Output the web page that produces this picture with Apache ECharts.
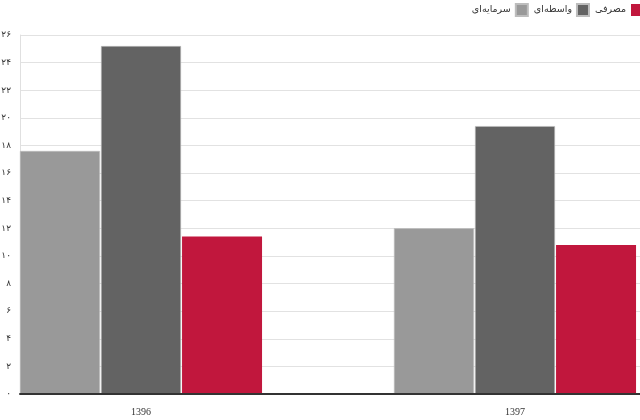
<!DOCTYPE html>
<html><head><meta charset="utf-8">
<script src="https://cdn.jsdelivr.net/npm/echarts@6/dist/echarts.min.js"></script>
<style>html,body{margin:0;padding:0;background:#fff}#c{width:640px;height:420px}</style>
</head><body><div id="c"></div>
<script>
const categories = ['1396', '1397'];
const seriesNames = ['سرمایه‌ای', 'واسطه‌ای', 'مصرفی'];
const capitalValues = [17.6, 12.0];
const intermediateValues = [25.2, 19.4];
const consumerValues = [11.4, 10.8];
const yTickValues = [0, 2, 4, 6, 8, 10, 12, 14, 16, 18, 20, 22, 24, 26];
const yTickLabels = ['۰', '۲', '۴', '۶', '۸', '۱۰', '۱۲', '۱۴', '۱۶', '۱۸', '۲۰', '۲۲', '۲۴', '۲۶'];
const colors = ['#999999', '#636363', '#C1173D'];

const chart = echarts.init(document.getElementById('c'), null, {renderer: 'canvas'});
const vals = [capitalValues, intermediateValues, consumerValues];
chart.setOption({
  animation: false,
  color: colors,
  legend: {
    data: seriesNames,
    right: -3, top: 2, padding: 0,
    align: 'right',
    itemWidth: 12, itemHeight: 12, itemGap: 5,
    icon: 'rect',
    textStyle: {fontFamily: 'DejaVu Sans', fontSize: 9.5, color: '#333', lineHeight: 16}
  },
  grid: [
    {left: 20, right: 0, top: 35, bottom: 26, outerBoundsMode: 'none'},
    {left: -46, right: -62, top: 35, bottom: 26, outerBoundsMode: 'none'}
  ],
  xAxis: [
    {type: 'category', gridIndex: 0, data: categories, z: 10,
     axisLine: {show: true, lineStyle: {color: '#333', width: 2}},
     axisTick: {show: false}, axisLabel: {show: false}},
    {type: 'category', gridIndex: 1, data: categories,
     axisLine: {show: false}, axisTick: {show: false},
     axisLabel: {margin: 13, fontFamily: 'Liberation Serif', fontSize: 10, color: '#333'}}
  ],
  yAxis: [
    {type: 'value', gridIndex: 0, min: 0, max: 26, interval: 2,
     axisLine: {show: true, lineStyle: {color: '#e0e0e0'}},
     axisTick: {show: false},
     splitLine: {lineStyle: {color: '#e2e2e2', width: 1}},
     axisLabel: {margin: 9, fontFamily: 'DejaVu Sans', fontSize: 9, color: '#333',
       formatter: v => yTickLabels[yTickValues.indexOf(v)]}},
    {type: 'value', gridIndex: 1, min: 0, max: 26, interval: 2, show: false}
  ],
  series: seriesNames.map((n, i) => ({
    name: n, type: 'bar', xAxisIndex: 1, yAxisIndex: 1,
    data: vals[i], barWidth: 80, barGap: '1.3%',
    itemStyle: {color: colors[i], borderColor: i === 2 ? colors[i] : '#bdbdbd', borderWidth: i === 2 ? 0 : 0.6}
  }))
});
</script></body></html>
